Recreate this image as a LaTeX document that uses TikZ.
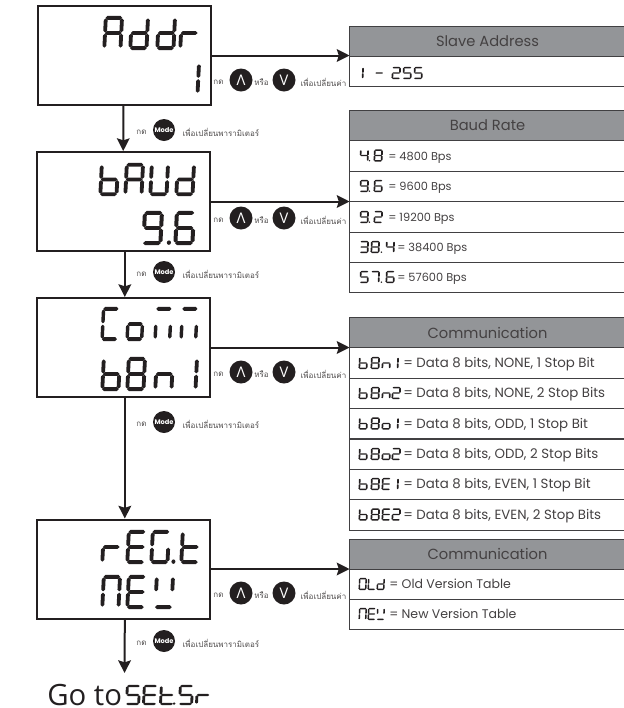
\documentclass[tikz,border=0pt]{standalone}
\usepackage{fontspec}
\setmainfont{Poppins}
\newfontfamily\thaifont[Script=Thai]{Loma}
\newfontfamily\gofont{Open Sans}
\usepackage{tikz}
\usetikzlibrary{arrows.meta}
\definecolor{ink}{HTML}{231F20}
\definecolor{headgray}{HTML}{939598}
\definecolor{rowline}{HTML}{414042}
% seven segment bars, in a unit box
\newcommand{\segh}[1]{\fill (.08,#1) -- (.175,{#1-.056}) -- (.825,{#1-.056}) -- (.92,#1) -- (.825,{#1+.056}) -- (.175,{#1+.056}) -- cycle;}
\newcommand{\segv}[3]{\fill (#1,#2) -- ({#1+.095},{#2+.05}) -- ({#1+.095},{#3-.05}) -- (#1,#3) -- ({#1-.095},{#3-.05}) -- ({#1-.095},{#2+.05}) -- cycle;}
\newcommand{\sega}{\segh{.055}}
\newcommand{\segd}{\segh{.945}}
\newcommand{\segg}{\segh{.5}}
\newcommand{\segf}{\segv{.095}{.07}{.48}}
\newcommand{\segb}{\segv{.905}{.07}{.48}}
\newcommand{\sege}{\segv{.095}{.52}{.93}}
\newcommand{\segc}{\segv{.905}{.52}{.93}}
\newcommand{\segp}{\fill (.5,.93) ellipse [x radius=.1, y radius=.065];}
\newcommand{\defchr}[2]{\expandafter\def\csname chr#1\endcsname{#2}}
\defchr{A}{a,b,c,e,f,g}\defchr{d}{b,c,d,e,g}\defchr{r}{e,g}\defchr{1}{b,c}
\defchr{b}{c,d,e,f,g}\defchr{U}{b,c,d,e,f}\defchr{9}{a,b,c,d,f,g}\defchr{6}{a,c,d,e,f,g}
\defchr{C}{a,d,e,f}\defchr{o}{c,d,e,g}\defchr{m}{a,c,e}\defchr{8}{a,b,c,d,e,f,g}
\defchr{n}{c,e,g}\defchr{N}{a,b,c,e,f}\defchr{E}{a,d,e,f,g}\defchr{G}{a,c,d,e,f}
\defchr{t}{d,e,f,g}\defchr{w}{b,d,f}\defchr{2}{a,b,d,e,g}\defchr{5}{a,c,d,f,g}
\defchr{3}{a,b,c,d,g}\defchr{4}{b,c,f,g}\defchr{7}{a,b,c}\defchr{0}{a,b,c,d,e,f}
\defchr{L}{d,e,f}\defchr{-}{g}\defchr{.}{p}
\newcommand{\lcdglyph}[5]{%
  \edef\lcdsegs{\csname chr#5\endcsname}%
  \begin{scope}[shift={(#1,#2)},x=#3*0.75pt,y=-#4*0.75pt,xslant=0.05,fill=ink]
    \foreach \s in \lcdsegs {\csname seg\s\endcsname}
  \end{scope}}
% name, text, x, y, glyph width, glyph height, x/char list
\newcommand{\lcdword}[7]{%
  \node[lcdtext] (#1) at (#3,{#4+#6/2}) {#2};
  \foreach \gx/\gc in {#7} {\lcdglyph{\gx}{#4}{#5}{#6}{\gc}}}
\begin{document}
\begin{tikzpicture}[x=0.75pt,y=-0.75pt,
  lcdtext/.style={anchor=west, inner sep=0pt, text opacity=0, font=\fontsize{6}{7}\selectfont},
  display/.style={draw=ink, line width=1.5pt, fill=white, minimum width=129.75pt, minimum height=74.25pt, inner sep=0pt},
  tblhead/.style={draw=rowline, line width=0.7pt, fill=headgray, anchor=north west, minimum width=207pt, minimum height=22.5pt, inner sep=0pt, outer sep=0pt, text=ink!85, font=\fontsize{11}{13}\selectfont},
  tblcell/.style={draw=rowline, line width=0.7pt, fill=white, anchor=north west, minimum width=207pt, minimum height=22.8pt, inner sep=0pt, outer sep=0pt},
  rowtext/.style={anchor=base west, inner sep=0pt, text=ink!85, font=\fontsize{8.5}{10}\selectfont},
  thai/.style={inner sep=0pt, text=ink!80, font=\thaifont\fontsize{6}{7}\selectfont},
  keybtn/.style={circle, fill=ink, text=white, minimum size=17.25pt, inner sep=0pt, font=\gofont\fontsize{11}{12}\selectfont},
  modebtn/.style={circle, fill=ink, text=white, minimum size=16.5pt, inner sep=0pt, font=\fontsize{5}{6}\selectfont\bfseries},
  flow/.style={-{Stealth[length=9.5pt,width=9.5pt,inset=1.5pt]}, line width=1.5pt, color=ink}
]
  \useasboundingbox (0,0) rectangle (624,708);

  % displays
  \node[display] (addr) at (124.5,55.5) {};
  \node[display] (baud) at (123.5,201.5) {};
  \node[display] (comm) at (123.5,347.5) {};
  \node[display] (regt) at (123.5,569) {};
  \lcdword{addrname}{Addr}{102}{16}{20}{34}{104/A,130/d,157/d,180/r}
  \lcdword{addrval}{1}{192}{62}{20}{33}{181/1}
  \lcdword{baudname}{bAUd}{98}{163}{20}{33}{100/b,125/A,150/U,176/d}
  \lcdword{baudval}{9.6}{142}{211}{21}{34}{143/9,160/.,175/6}
  \lcdword{commname}{Comm}{100}{307}{18}{34}{102/C,127/o,155/m,181/m}
  \lcdword{commval}{b8n1}{100}{357}{20}{34}{102/b,127/8,155/n,179/1}
  \lcdword{regtname}{rEG.t}{100}{530}{20}{34}{102/r,127/E,151/G,165/.,181/t}
  \lcdword{regtval}{nEw}{100}{575}{20}{34}{102/N,127/E,155/w}

  % tables
  \node[tblhead] (slavehead) at (349.5,26) {Slave Address};
  \node[tblcell] (slaverow1) at (349.5,56) {};
  \node[tblhead] (baudhead) at (349.5,110.5) {Baud Rate};
  \foreach \n/\y in {1/140.7,2/171.2,3/201.7,4/232,5/262.4}
    {\node[tblcell] (baudrow\n) at (349.5,\y) {};}
  \node[tblhead] (commhead) at (349.5,317.5) {Communication};
  \foreach \n/\y in {1/347.7,2/378,3/408.4,4/439,5/469.2,6/499.6}
    {\node[tblcell] (commrow\n) at (349.5,\y) {};}
  \node[tblhead] (regthead) at (349.5,539) {Communication};
  \foreach \n/\y in {1/569,2/599}
    {\node[tblcell] (regtrow\n) at (349.5,\y) {};}

  \lcdword{slaverange}{1 - 255}{356}{67}{9}{12}{355/1,375/-,392/2,403/5,414/5}
  \lcdword{baudkey1}{4.8}{358}{149.5}{9}{12}{360/4,365.5/.,374/8}
  \lcdword{baudkey2}{9.6}{358}{180}{9}{12}{360/9,365.5/.,374/6}
  \lcdword{baudkey3}{9.2}{358}{211}{9}{12}{360/9,365.5/.,374/2}
  \lcdword{baudkey4}{38.4}{358}{241}{9}{12}{360/3,371/8,377.5/.,386/4}
  \lcdword{baudkey5}{57.6}{358}{271}{9}{12}{360/5,371/7,377.5/.,386/6}
  \foreach \n/\x/\y/\t in {1/388/160/4800,2/388/190.5/9600,3/388/221.5/19200,4/397/251.5/38400,5/397/281.5/57600}
    {\node[rowtext] (baudtext\n) at (\x,\y) {= \t\ Bps};}

  \lcdword{commkey1}{b8n1}{358}{357}{9}{12}{359/b,371/8,382/n,390/1}
  \lcdword{commkey2}{b8n2}{358}{387}{9}{12}{359/b,371/8,382/n,392/2}
  \lcdword{commkey3}{b8o1}{358}{417.5}{9}{12}{359/b,371/8,382/o,390/1}
  \lcdword{commkey4}{b8o2}{358}{448}{9}{12}{359/b,371/8,382/o,392/2}
  \lcdword{commkey5}{b8E1}{358}{478}{9}{12}{359/b,371/8,382/E,390/1}
  \lcdword{commkey6}{b8E2}{358}{508.5}{9}{12}{359/b,371/8,382/E,392/2}
  \foreach \n/\y/\t in {1/367.5/{NONE, 1 Stop Bit},2/397.5/{NONE, 2 Stop Bits},3/428/{ODD, 1 Stop Bit},4/458.5/{ODD, 2 Stop Bits},5/488.5/{EVEN, 1 Stop Bit},6/519/{EVEN, 2 Stop Bits}}
    {\node[rowtext, font=\fontsize{10}{12}\selectfont] (commtext\n) at (403,\y) {= Data 8 bits, \t};}

  \lcdword{regtkey1}{OLd}{358}{578}{8}{12}{359/0,368/L,377/d}
  \lcdword{regtkey2}{nEw}{358}{608}{8}{12}{359/N,368/E,377/w}
  \node[rowtext, font=\fontsize{9.4}{11}\selectfont] (regttext1) at (389,588.5) {= Old Version Table};
  \node[rowtext, font=\fontsize{9.4}{11}\selectfont] (regttext2) at (389,618.5) {= New Version Table};

  % key hints
  \foreach \n/\y in {addr/80,baud/218,comm/372,regt/593} {
    \node[thai] (\n press) at (218.5,{\y+2}) {กด};
    \node[keybtn] (\n up) at (241,\y) {Λ};
    \node[thai] (\n or) at (261.5,{\y+2}) {หรือ};
    \node[keybtn] (\n down) at (284,\y) {V};
    \node[thai] (\n hint) at (323.5,{\y+2}) {เพื่อเปลี่ยนค่า};
  }
  \foreach \n/\y in {addr/130,baud/272,comm/422,regt/641} {
    \node[thai] (\n next) at (141.5,{\y+2}) {กด};
    \node[modebtn] (\n mode) at (164,\y) {Mode};
    \node[thai] (\n param) at (221,{\y+2}) {เพื่อเปลี่ยนพารามิเตอร์};
  }

  % connectors
  \draw[flow] (addr.east) -- (addr.east -| slaverow1.west);
  \draw[flow] (baud.east) -- (baud.east -| baudrow2.west);
  \draw[flow] (comm.east) -- (comm.east -| commrow1.west);
  \draw[flow] (regt.east) -- (regt.east -| regtrow1.west);
  \draw[flow] ([xshift=-0.9pt]addr.south) -- ([xshift=-0.2pt]baud.north);
  \draw[flow] ([xshift=1pt]baud.south) -- ([xshift=1pt]comm.north);
  \draw[flow] ([xshift=1pt]comm.south) -- ([xshift=1pt]regt.north);
  \coordinate (regtend) at (124.5,673);
  \draw[flow] ([xshift=1pt]regt.south) -- (regtend);

  % last line
  \node[inner sep=0pt, anchor=base west, text=ink, font=\gofont\fontsize{22}{26}\selectfont] (goto) at (47,705) {Go to};
  \lcdword{setsr}{SEt.Sr}{126}{685}{15}{20}{126/5,143/E,160/t,167.5/.,179/5,196/r}
\end{tikzpicture}
\end{document}
